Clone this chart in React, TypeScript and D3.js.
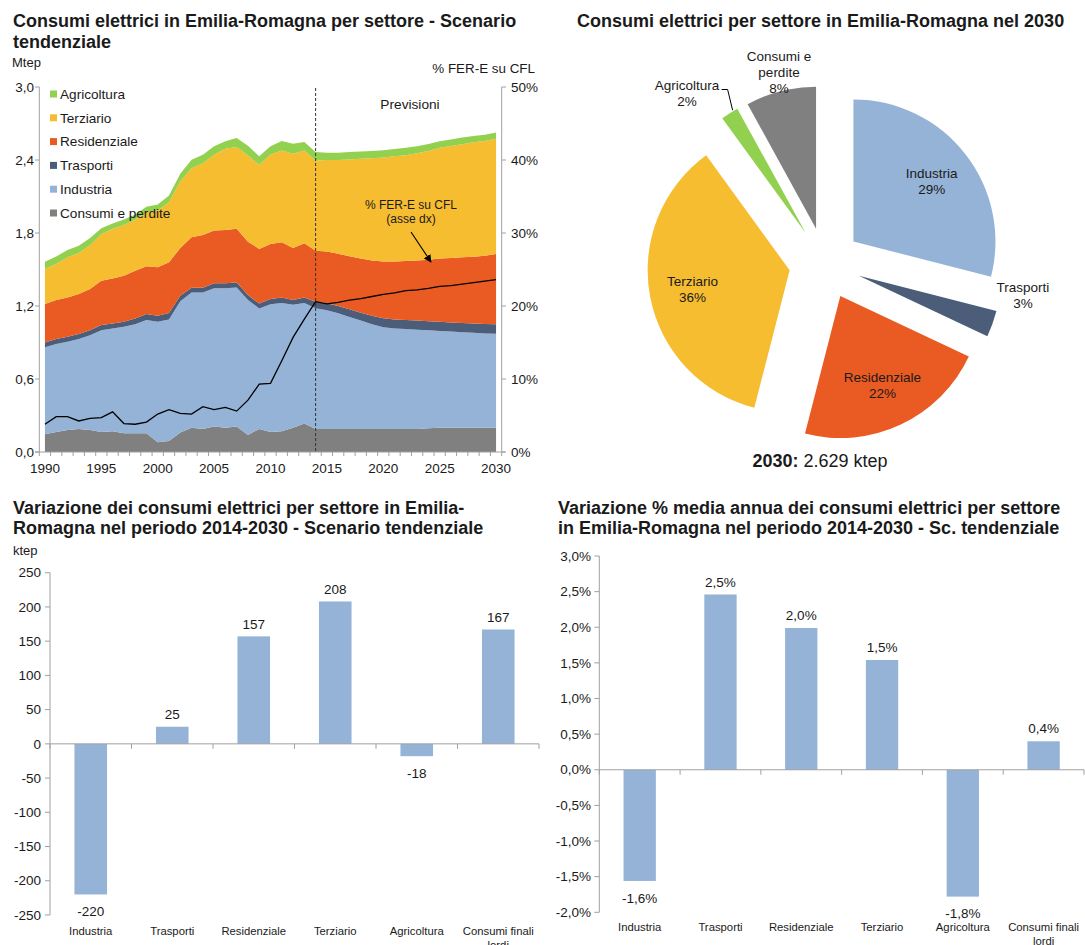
import React from 'react';
import * as d3 from 'd3';

// ---------- DATA ----------
const years: number[] = d3.range(1990, 2031);
// ktep per sector (stacked, bottom to top)
const consumiPerdite = [145, 165, 180, 190, 180, 165, 170, 155, 155, 155, 80, 90, 160, 200, 190, 210, 200, 210, 140, 190, 165, 170, 200, 235, 190,
  190, 190, 190, 190, 190, 190, 190, 190, 190, 195, 200, 200, 200, 200, 200, 200];
const industria = [715, 722, 726, 738, 780, 835, 846, 875, 895, 930, 990, 1000, 1080, 1110, 1120, 1135, 1145, 1143, 1110, 990, 1050, 1055, 1010, 990, 992,
  975, 950, 920, 890, 860, 835, 825, 820, 815, 805, 795, 790, 785, 780, 775, 772];
const trasporti = [40, 41, 41, 41, 40, 43, 41, 40, 48, 50, 50, 52, 45, 40, 40, 41, 41, 41, 40, 40, 42, 45, 40, 45, 53,
  57, 60, 63, 65, 70, 75, 75, 75, 75, 75, 75, 75, 76, 76, 77, 78];
const residenziale = [316, 321, 323, 329, 340, 365, 370, 379, 392, 391, 398, 417, 392, 415, 434, 434, 439, 440, 439, 449, 453, 454, 427, 446, 420,
  425, 430, 435, 445, 455, 465, 475, 485, 495, 505, 520, 530, 539, 549, 560, 577];
const terziario = [288, 296, 330, 338, 360, 382, 407, 417, 418, 444, 467, 494, 549, 568, 590, 623, 667, 672, 708, 691, 736, 755, 774, 763, 740,
  753, 770, 797, 820, 840, 855, 865, 870, 880, 895, 910, 920, 930, 940, 944, 948];
const agricoltura = [60, 62, 60, 60, 58, 50, 45, 45, 45, 45, 50, 55, 60, 70, 70, 70, 62, 75, 80, 70, 66, 77, 83, 68, 70,
  60, 60, 60, 60, 60, 60, 60, 60, 58, 56, 55, 54, 54, 53, 52, 52];
// % FER-E su CFL (right axis)
const ferE = [3.8, 4.85, 4.85, 4.25, 4.6, 4.7, 5.5, 3.9, 3.8, 4.1, 5.2, 5.8, 5.3, 5.2, 6.2, 5.8, 6.1, 5.6, 7.1, 9.3, 9.4, 12.5, 15.7, 18.2, 20.6,
  20.3, 20.5, 20.8, 21.0, 21.3, 21.6, 21.8, 22.1, 22.2, 22.4, 22.7, 22.8, 23.0, 23.2, 23.4, 23.6];
const forecastStart = 2014;
const xTickYears = [1990, 1995, 2000, 2005, 2010, 2015, 2020, 2025, 2030];
const leftTicks = [0, 0.6, 1.2, 1.8, 2.4, 3.0];
const rightTicks = [0, 10, 20, 30, 40, 50];

const seriesKeys = ['Consumi e perdite', 'Industria', 'Trasporti', 'Residenziale', 'Terziario', 'Agricoltura'];
const seriesValues = [consumiPerdite, industria, trasporti, residenziale, terziario, agricoltura];
const seriesColors = ['#808080', '#95B3D7', '#4B5D78', '#E95B22', '#F6BD31', '#92D050'];
const legendOrder = ['Agricoltura', 'Terziario', 'Residenziale', 'Trasporti', 'Industria', 'Consumi e perdite'];

// Pie 2030
const pieNames = ['Industria', 'Trasporti', 'Residenziale', 'Terziario', 'Agricoltura', 'Consumi e perdite'];
const pieShares = [29, 3, 22, 36, 2, 8];
const pieColors = ['#95B3D7', '#4B5D78', '#E95B22', '#F6BD31', '#92D050', '#808080'];
const pieTotal = '2.629 ktep';

// Bar charts
const barCats = ['Industria', 'Trasporti', 'Residenziale', 'Terziario', 'Agricoltura', 'Consumi finali lordi'];
const varKtep = [-220, 25, 157, 208, -18, 167];
const varKtepTicks = [250, 200, 150, 100, 50, 0, -50, -100, -150, -200, -250];
const varPct = [-1.56, 2.46, 1.99, 1.54, -1.78, 0.40];
const varPctTicks = [3, 2.5, 2, 1.5, 1, 0.5, 0, -0.5, -1, -1.5, -2];

// ---------- STYLE ----------
const F = "'Liberation Sans', Arial, Helvetica, sans-serif";
const TXT = '#1a1a1a';
const AX = '#a0a0a0';
const BAR = '#95B3D7';
const TITLE = 18;
const comma = (s: string) => s.replace('.', ',');

function AreaChart() {
  const x = d3.scaleBand<number>().domain(years).range([39.3, 501.7]);
  const xc = (yr: number) => (x(yr) as number) + x.bandwidth() / 2;
  const y = d3.scaleLinear().domain([0, 3]).range([452, 87]);
  const yr = d3.scaleLinear().domain([0, 50]).range([452, 87]);
  const table = years.map((yy, i) => {
    const o: any = { year: yy };
    seriesKeys.forEach((k, j) => (o[k] = seriesValues[j][i] / 1000));
    return o;
  });
  const stacked = d3.stack<any>().keys(seriesKeys)(table);
  const area = d3.area<any>().x((d) => xc(d.data.year)).y0((d) => y(d[0])).y1((d) => y(d[1]));
  const line = d3.line<number>().x((_, i) => xc(years[i])).y((d) => yr(d));
  const bounds = years.map((yy) => x(yy) as number).concat([501.7]);
  return (
    <g>
      <text x={13} y={27} fontSize={TITLE} fontWeight="bold" fill={TXT}>Consumi elettrici in Emilia-Romagna per settore - Scenario</text>
      <text x={13} y={47.5} fontSize={TITLE} fontWeight="bold" fill={TXT}>tendenziale</text>
      <text x={12} y={66.5} fontSize={13} fill={TXT}>Mtep</text>
      <text x={535} y={73} fontSize={13.4} fill={TXT} textAnchor="end">% FER-E su CFL</text>
      {stacked.map((s, i) => (
        <path key={s.key} d={area(s) as string} fill={seriesColors[i]} />
      ))}
      <path d={line(ferE) as string} fill="none" stroke="#000" strokeWidth={1.3} />
      <line x1={xc(forecastStart)} x2={xc(forecastStart)} y1={88} y2={452} stroke="#333" strokeWidth={1} strokeDasharray="3,2" />
      <text x={410} y={109} fontSize={13.7} fill={TXT} textAnchor="middle">Previsioni</text>
      <text x={411} y={209} fontSize={12} fill={TXT} textAnchor="middle">% FER-E su CFL</text>
      <text x={411} y={223} fontSize={12} fill={TXT} textAnchor="middle">(asse dx)</text>
      <line x1={411} y1={232} x2={431} y2={262} stroke="#000" strokeWidth={1.1} markerEnd="url(#arr)" />
      {/* axes */}
      <line x1={39.3} x2={39.3} y1={87} y2={452} stroke={AX} />
      <line x1={501.7} x2={501.7} y1={87} y2={452} stroke={AX} />
      <line x1={35} x2={505} y1={452} y2={452} stroke={AX} />
      {leftTicks.map((t) => (
        <g key={t}>
          <line x1={35} x2={39.3} y1={y(t)} y2={y(t)} stroke={AX} />
          <text x={34} y={y(t) + 4.7} fontSize={13.5} fill={TXT} textAnchor="end">{comma(t.toFixed(1))}</text>
        </g>
      ))}
      {rightTicks.map((t) => (
        <g key={t}>
          <line x1={501.7} x2={506} y1={yr(t)} y2={yr(t)} stroke={AX} />
          <text x={511} y={yr(t) + 4.7} fontSize={13.5} fill={TXT}>{t}%</text>
        </g>
      ))}
      {bounds.map((b, i) => (
        <line key={i} x1={b} x2={b} y1={452} y2={456} stroke={AX} />
      ))}
      {xTickYears.map((t) => (
        <text key={t} x={xc(t)} y={472.5} fontSize={13.5} fill={TXT} textAnchor="middle">{t}</text>
      ))}
      {legendOrder.map((k, i) => (
        <g key={k}>
          <rect x={50} y={90.5 + i * 23.8} width={7} height={7} fill={seriesColors[seriesKeys.indexOf(k)]} />
          <text x={60} y={98.8 + i * 23.8} fontSize={13.6} fill={TXT}>{k}</text>
        </g>
      ))}
    </g>
  );
}

function PieChart() {
  const cx = 825, cy = 263.5, r = 142, explode = 36;
  const arcs = d3.pie<number>().sort(null).value((d) => d)(pieShares);
  const arc = d3.arc<any>().innerRadius(0).outerRadius(r);
  const dir = (a: number) => [Math.sin(a), -Math.cos(a)];
  const insideR = 135;
  // outside labels: offsets from pie centre
  const outside: Record<string, [number, number]> = {
    Trasporti: [198, 32],
    Agricoltura: [-138, -170],
    'Consumi e perdite': [-46, -191],
  };
  return (
    <g>
      <text x={577} y={27} fontSize={TITLE} fontWeight="bold" fill={TXT}>Consumi elettrici per settore in Emilia-Romagna nel 2030</text>
      {arcs.map((a, i) => {
        const mid = (a.startAngle + a.endAngle) / 2;
        const [dx, dy] = dir(mid);
        return (
          <path key={i} d={arc(a) as string} fill={pieColors[i]} transform={`translate(${cx + dx * explode},${cy + dy * explode})`} />
        );
      })}
      {arcs.map((a, i) => {
        const name = pieNames[i];
        const mid = (a.startAngle + a.endAngle) / 2;
        const [dx, dy] = dir(mid);
        let lx = cx + dx * insideR, ly = cy + dy * insideR;
        if (outside[name]) {
          lx = cx + outside[name][0];
          ly = cy + outside[name][1];
        }
        const lines = name === 'Consumi e perdite' ? ['Consumi e', 'perdite', `${pieShares[i]}%`] : [name, `${pieShares[i]}%`];
        const h = 16;
        const y0 = ly - ((lines.length - 1) * h) / 2;
        return (
          <g key={'l' + i}>
            {lines.map((t, j) => (
              <text key={j} x={lx} y={y0 + j * h + 4.8} fontSize={13.5} fill={TXT} textAnchor="middle">{t}</text>
            ))}
          </g>
        );
      })}
      {(() => {
        const i = pieNames.indexOf('Agricoltura');
        const a = arcs[i];
        const mid = (a.startAngle + a.endAngle) / 2;
        const [dx, dy] = dir(mid);
        const px = cx + dx * (r + explode) + 3, py = cy + dy * (r + explode) - 3;
        return <polyline points={`${px},${py} ${px - 5},${cy - 174} ${px - 11},${cy - 174}`} fill="none" stroke="#000" strokeWidth={1} />;
      })()}
      <text x={820} y={467} fontSize={18} fill={TXT} textAnchor="middle">
        <tspan fontWeight="bold">2030:</tspan> {pieTotal}
      </text>
    </g>
  );
}

function BarChart(props: {
  x0: number; x1: number; yTop: number; yBot: number; domain: [number, number]; ticks: number[];
  values: number[]; fmt: (v: number) => string; tickFmt: (v: number) => string; labelX: number; catY: number;
  title: string[]; titleX: number; unit?: string;
}) {
  const { x0, x1, yTop, yBot, domain, ticks, values, fmt, tickFmt, labelX, catY, title, titleX, unit } = props;
  const x = d3.scaleBand<string>().domain(barCats).range([x0, x1]);
  const y = d3.scaleLinear().domain(domain).range([yBot, yTop]);
  const bw = x.bandwidth() * 0.4;
  const bounds = barCats.map((c) => x(c) as number).concat([x1]);
  return (
    <g>
      {title.map((t, i) => (
        <text key={i} x={titleX} y={513.5 + i * 20.5} fontSize={TITLE} fontWeight="bold" fill={TXT}>{t}</text>
      ))}
      {unit && <text x={13} y={554.5} fontSize={13} fill={TXT}>{unit}</text>}
      {values.map((v, i) => {
        const cxm = (x(barCats[i]) as number) + x.bandwidth() / 2;
        const top = y(Math.max(0, v)), bot = y(Math.min(0, v));
        return (
          <g key={i}>
            <rect x={cxm - bw / 2} y={top} width={bw} height={bot - top} fill={BAR} />
            <text x={cxm} y={(v >= 0 ? top - 12.5 : bot + 17) + 4.7} fontSize={13.5} fill={TXT} textAnchor="middle">{fmt(v)}</text>
          </g>
        );
      })}
      <line x1={x0} x2={x0} y1={yTop} y2={yBot} stroke={AX} />
      <line x1={x0} x2={x1} y1={y(0)} y2={y(0)} stroke={AX} />
      {ticks.map((t) => (
        <g key={t}>
          <line x1={x0 - 5} x2={x0} y1={y(t)} y2={y(t)} stroke={AX} />
          <text x={labelX} y={y(t) + 4.7} fontSize={13.5} fill={TXT} textAnchor="end">{tickFmt(t)}</text>
        </g>
      ))}
      {bounds.map((b, i) => (
        <line key={i} x1={b} x2={b} y1={y(0)} y2={y(0) + 5} stroke={AX} />
      ))}
      {barCats.map((c) => {
        const cxm = (x(c) as number) + x.bandwidth() / 2;
        const lines = c === 'Consumi finali lordi' ? ['Consumi finali', 'lordi'] : [c];
        return lines.map((t, j) => (
          <text key={c + j} x={cxm} y={catY + 4 + j * 14} fontSize={11.3} fill={TXT} textAnchor="middle">{t}</text>
        ));
      })}
    </g>
  );
}

export default function App() {
  return (
    <svg width={1085} height={945} style={{ position: 'absolute', left: 0, top: 0, background: '#fff' }} fontFamily={F}>
      <defs>
        <marker id="arr" viewBox="0 0 10 10" refX="9" refY="5" markerWidth="7" markerHeight="7" orient="auto">
          <path d="M0,0 L10,5 L0,10 z" fill="#000" />
        </marker>
      </defs>
      <rect x={0} y={0} width={1085} height={945} fill="#fff" />
      <AreaChart />
      <PieChart />
      <BarChart
        x0={50} x1={539} yTop={572.7} yBot={915} domain={[-250, 250]} ticks={varKtepTicks} values={varKtep}
        fmt={(v) => String(v)} tickFmt={(v) => String(v)} labelX={41} catY={930.7}
        title={['Variazione dei consumi elettrici per settore in Emilia-', 'Romagna nel periodo 2014-2030 - Scenario tendenziale']}
        titleX={13} unit="ktep"
      />
      <BarChart
        x0={599.3} x1={1084} yTop={556} yBot={912.3} domain={[-2, 3]} ticks={varPctTicks} values={varPct}
        fmt={(v) => comma(v.toFixed(1)) + '%'} tickFmt={(v) => comma(v.toFixed(1)) + '%'} labelX={591} catY={926.7}
        title={['Variazione % media annua dei consumi elettrici per settore', 'in Emilia-Romagna nel periodo 2014-2030 - Sc. tendenziale']}
        titleX={558}
      />
    </svg>
  );
}
